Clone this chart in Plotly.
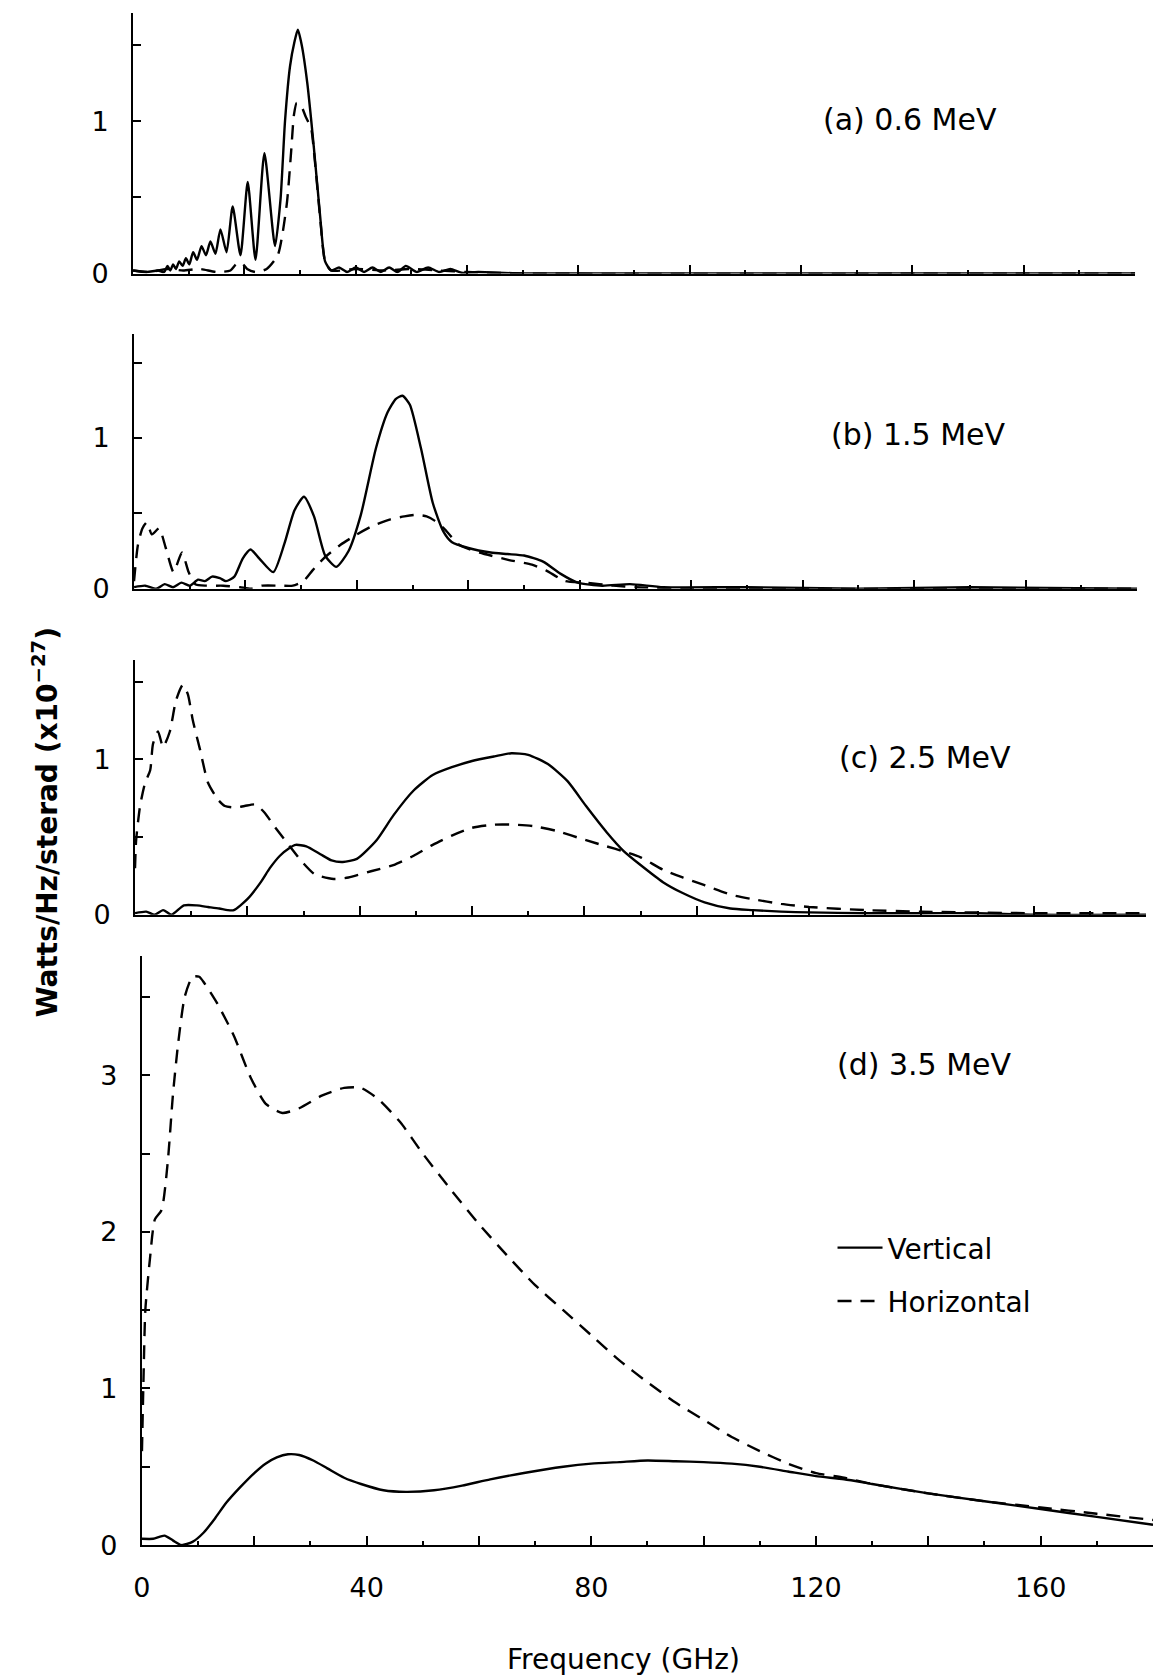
import plotly.graph_objects as go

W, H = 1154, 1678

# ---------------- data ----------------
# Panel (a) 0.6 MeV
freq_a_vert = [0, 2.5, 4.5, 5.6, 6.2, 6.7, 7.2, 7.7, 8.3, 8.9, 9.5, 10.1, 10.8, 11.5, 12.3, 13.1,
               13.9, 14.8, 15.7, 16.8, 17.9, 19.3, 20.6, 22.0, 23.6, 25.5, 26.5, 27.3, 28.2, 29.0,
               29.6, 30.3, 31.3, 32.5, 33.6, 34.5, 35.6, 37, 38.5, 40, 41.5, 43, 44.5, 46, 47.5,
               49, 51, 53, 55, 57, 59, 62, 70, 180]
vert_a = [0.02, 0.01, 0.02, 0.01, 0.05, 0.02, 0.06, 0.03, 0.08, 0.05, 0.10, 0.06, 0.14, 0.09, 0.18, 0.12,
          0.21, 0.13, 0.29, 0.14, 0.44, 0.12, 0.60, 0.09, 0.79, 0.18, 0.49, 1.00, 1.36, 1.52,
          1.60, 1.50, 1.25, 0.82, 0.38, 0.08, 0.02, 0.04, 0.01, 0.04, 0.01, 0.04, 0.01, 0.04, 0.01,
          0.05, 0.01, 0.04, 0.01, 0.03, 0.005, 0.01, 0.0, 0.0]
freq_a_horz = [0, 3, 6, 9, 12, 15, 17.5, 18.5, 19.5, 20.5, 22, 24, 26, 27.6, 28.4, 28.9, 29.4,
               30.2, 31.0, 32.0, 32.5, 33.6, 34.5, 35.6, 40, 45, 50, 55, 60, 70, 180]
horz_a = [0.02, 0.01, 0.03, 0.02, 0.03, 0.01, 0.02, 0.06, 0.07, 0.03, 0.01, 0.03, 0.12, 0.45, 0.80, 1.04, 1.12,
          1.10, 1.03, 0.95, 0.80, 0.37, 0.08, 0.02, 0.03, 0.02, 0.03, 0.02, 0.01, 0.0, 0.0]

# Panel (b) 1.5 MeV
freq_b_vert = [0, 2, 4, 5.5, 7, 8.5, 10, 11.5, 12.7, 14, 15.4, 16.5, 18, 19.5, 20.9, 22.5, 25, 27,
               28.8, 30.5, 32.3, 34.3, 36.3, 38.5, 40.7, 43.4, 45.5, 47, 48.2, 49.5, 51.5, 53.6,
               55.5, 57, 60, 64, 67, 70, 73.4, 76.5, 79.6, 84, 89, 95, 110, 130, 150, 180]
vert_b = [0.01, 0.02, 0.0, 0.03, 0.01, 0.04, 0.02, 0.06, 0.05, 0.08, 0.07, 0.05, 0.08, 0.20, 0.26, 0.20, 0.11, 0.30,
          0.52, 0.61, 0.48, 0.22, 0.145, 0.25, 0.49, 0.93, 1.17, 1.26, 1.28, 1.22, 0.93, 0.57,
          0.38, 0.31, 0.27, 0.24, 0.23, 0.22, 0.18, 0.10, 0.04, 0.02, 0.03, 0.01, 0.01, 0.0, 0.01, 0.0]
freq_b_horz = [0, 0.7, 1.5, 2.3, 3.2, 4.5, 5.7, 7.1, 8.6, 9.8, 11, 13, 16, 19, 21, 23, 26.3, 28.5,
               30.4, 32, 34, 37, 40, 43, 46, 48.5, 50.5, 52.5, 54, 55.6, 58.4, 62, 67.3, 71.4, 74,
               77.4, 81, 86, 90, 100, 180]
horz_b = [0.05, 0.29, 0.40, 0.44, 0.36, 0.40, 0.27, 0.11, 0.24, 0.11, 0.03, 0.02, 0.02, 0.01, 0.0, 0.02, 0.02, 0.02,
          0.05, 0.12, 0.20, 0.29, 0.36, 0.42, 0.46, 0.48, 0.49, 0.48, 0.45, 0.40, 0.29, 0.24, 0.19, 0.16, 0.12,
          0.05, 0.04, 0.02, 0.01, 0.0, 0.0]

# Panel (c) 2.5 MeV
freq_c_vert = [0, 2, 3.5, 5, 6.5, 8.7, 11, 13, 15, 16.5, 17.6, 20, 22.4, 24, 25.8, 27.5, 28.6, 30.5,
               33, 35, 37, 39.5, 43, 46, 49.6, 53, 56.4, 60, 64, 67, 70, 73.5, 77, 80.3, 84, 87, 90,
               94, 97.5, 101.4, 106, 110, 115, 120, 130, 140, 150, 160, 180]
vert_c = [0.01, 0.02, 0.0, 0.03, 0.0, 0.06, 0.06, 0.05, 0.04, 0.03, 0.03, 0.10, 0.21, 0.30, 0.38, 0.43, 0.45, 0.44,
          0.39, 0.35, 0.34, 0.36, 0.48, 0.64, 0.80, 0.90, 0.95, 0.99, 1.02, 1.04, 1.03, 0.97, 0.86, 0.70, 0.53, 0.41, 0.32,
          0.21, 0.14, 0.08, 0.04, 0.03, 0.02, 0.015, 0.01, 0.01, 0.01, 0.0, 0.0]
freq_c_horz = [0, 0.2, 0.9, 1.8, 2.7, 3.2, 4.1, 5.0, 6.2, 7.3, 8.5, 9.4, 10.3, 11.6, 13, 14.8, 16,
               17.8, 19.5, 21.4, 23, 25, 28, 30, 32, 35.4, 38, 42, 46, 49.6, 53, 56.4, 60, 64, 67.5,
               71, 75, 80.3, 84, 86.8, 90, 94, 97.5, 101.4, 106, 110, 115, 120, 130, 140, 160, 180]
horz_c = [0.30, 0.48, 0.70, 0.85, 0.93, 1.10, 1.18, 1.08, 1.18, 1.38, 1.48, 1.42, 1.25, 1.06, 0.85, 0.74, 0.70,
          0.69, 0.70, 0.71, 0.66, 0.56, 0.42, 0.33, 0.26, 0.23, 0.24, 0.28, 0.32, 0.38, 0.45, 0.51, 0.56, 0.58, 0.58,
          0.57, 0.54, 0.48, 0.44, 0.41, 0.37, 0.29, 0.24, 0.19, 0.13, 0.10, 0.07, 0.05, 0.03, 0.02, 0.01, 0.01]

# Panel (d) 3.5 MeV
freq_d_vert = [0, 2, 4, 5.5, 7, 9, 11, 13, 15, 17.5, 20, 22, 24, 26, 28, 30.5, 33, 36, 39, 43, 47, 52,
               57, 62, 68, 75, 80, 85, 90, 95, 100, 105, 110, 115, 120, 125, 130, 140, 150, 160, 170, 180]
vert_d = [0.04, 0.04, 0.06, 0.03, 0.0, 0.02, 0.08, 0.17, 0.27, 0.37, 0.46, 0.52, 0.56, 0.58, 0.575, 0.54, 0.49, 0.43,
          0.39, 0.35, 0.34, 0.35, 0.38, 0.42, 0.46, 0.50, 0.52, 0.53, 0.54, 0.535, 0.53, 0.52, 0.50, 0.47, 0.44,
          0.42, 0.39, 0.33, 0.28, 0.23, 0.18, 0.13]
freq_d_horz = [0, 0.3, 0.6, 1.4, 2.3, 3.5, 4.6, 5.5, 6.4, 7.6, 9.0, 10.2, 11.1, 13.4, 16.4, 19.3, 22, 25,
               28, 32, 36, 39, 42, 46, 50, 55, 60, 65, 70, 75, 80, 85, 90, 95, 100, 105, 110, 115, 120,
               125, 130, 140, 150, 160, 170, 180]
horz_d = [0.6, 1.1, 1.5, 1.82, 2.08, 2.14, 2.45, 2.87, 3.19, 3.50, 3.63, 3.63, 3.59, 3.46, 3.25, 2.99, 2.82, 2.76,
          2.79, 2.87, 2.92, 2.92, 2.85, 2.70, 2.50, 2.27, 2.05, 1.85, 1.66, 1.50, 1.34, 1.18, 1.04, 0.91, 0.80,
          0.69, 0.60, 0.52, 0.46, 0.43, 0.39, 0.33, 0.28, 0.24, 0.20, 0.16]

panel_labels = ["(a) 0.6 MeV", "(b) 1.5 MeV", "(c) 2.5 MeV", "(d) 3.5 MeV"]
x_tickvals = [0, 20, 40, 60, 80, 100, 120, 140, 160, 180]
x_ticktext = ["0", " ", "40", " ", "80", " ", "120", " ", "160", " "]

# ---------------- layout geometry (pixels) ----------------
boxes = [  # (left, right, top, bottom) in px
    (125, 1135, 13, 276),
    (126, 1137, 337, 594),
    (127, 1146, 666, 923),
    (134, 1153, 965, 1559),
]
y_max = [1.71, 1.69, 1.64, 3.76]
y_tickvals = [[0, 0.5, 1, 1.5], [0, 0.5, 1, 1.5], [0, 0.5, 1, 1.5],
              [0, 0.5, 1, 1.5, 2, 2.5, 3, 3.5]]
y_ticktext = [["0", " ", "1", " "], ["0", " ", "1", " "], ["0", " ", "1", " "],
              ["0", " ", "1", " ", "2", " ", "3", " "]]

FONT = "DejaVu Sans"
fs_tick = 27
fs_lab = 30
fs_title = 28

data_sets = [
    (freq_a_vert, vert_a, freq_a_horz, horz_a),
    (freq_b_vert, vert_b, freq_b_horz, horz_b),
    (freq_c_vert, vert_c, freq_c_horz, horz_c),
    (freq_d_vert, vert_d, freq_d_horz, horz_d),
]

fig = go.Figure()
layout = {}
for i, (fv, vv, fh, vh) in enumerate(data_sets):
    n = "" if i == 0 else str(i + 1)
    xa, ya = "x" + n, "y" + n
    last = (i == 3)
    fig.add_trace(go.Scatter(x=fv, y=vv, xaxis=xa, yaxis=ya, mode="lines",
                             line=dict(color="black", width=2.4, shape="spline", smoothing=0.6),
                             name="Vertical", legendgroup="v", showlegend=last))
    fig.add_trace(go.Scatter(x=fh, y=vh, xaxis=xa, yaxis=ya, mode="lines",
                             line=dict(color="black", width=2.4, dash="14px,9px", shape="spline", smoothing=0.6),
                             name="Horizontal", legendgroup="h", showlegend=last))
    L, R, T, B = boxes[i]
    layout["xaxis" + n] = dict(
        domain=[L / W, R / W], range=[0, 180], anchor=ya,
        showline=True, linecolor="black", linewidth=2, showgrid=False, zeroline=False,
        ticks="inside", ticklen=9, tickwidth=1.5, tickcolor="black",
        tickvals=x_tickvals, ticktext=x_ticktext,
        showticklabels=last, ticklabelstandoff=18,
        minor=dict(dtick=10, tick0=0, ticks="inside", ticklen=4, tickwidth=1.5, tickcolor="black"),
        tickfont=dict(family=FONT, size=fs_tick, color="black"),
    )
    layout["yaxis" + n] = dict(
        domain=[1 - B / H, 1 - T / H], range=[0, y_max[i]], anchor=xa,
        showline=True, linecolor="black", linewidth=2, showgrid=False, zeroline=False,
        ticks="inside", ticklen=8, tickwidth=1.5, tickcolor="black",
        tickvals=y_tickvals[i], ticktext=y_ticktext[i], ticklabelstandoff=17,
        tickfont=dict(family=FONT, size=fs_tick, color="black"),
    )

label_pos = [(908, 121), (917, 438), (923, 764), (923, 1074)]
annotations = []
for (px, py), txt in zip(label_pos, panel_labels):
    annotations.append(dict(x=px / W, y=1 - py / H, xref="paper", yref="paper", text=txt,
                            showarrow=False, xanchor="center", yanchor="middle",
                            font=dict(family=FONT, size=fs_lab, color="black")))
annotations.append(dict(x=619 / W, y=1 - 1674 / H, xref="paper", yref="paper", text="Frequency (GHz)",
                        showarrow=False, xanchor="center", yanchor="middle",
                        font=dict(family=FONT, size=fs_title, color="black")))
annotations.append(dict(x=37 / W, y=1 - 830 / H, xref="paper", yref="paper",
                        text="<b>Watts/Hz/sterad (x10<sup>\u221227</sup>)</b>", textangle=-90,
                        showarrow=False, xanchor="center", yanchor="middle",
                        font=dict(family=FONT, size=28, color="black")))

fig.update_layout(
    width=W, height=H, margin=dict(l=0, r=0, t=0, b=0),
    paper_bgcolor="white", plot_bgcolor="white",
    font=dict(family=FONT, size=fs_tick, color="black"),
    showlegend=True,
    legend=dict(x=830 / W, y=1 - 1234 / H, xanchor="left", yanchor="top",
                bgcolor="rgba(0,0,0,0)", borderwidth=0, traceorder="grouped",
                itemwidth=45, tracegroupgap=14,
                font=dict(family=FONT, size=fs_title, color="black")),
    annotations=annotations,
    **layout,
)

fig.write_html("out.html")
